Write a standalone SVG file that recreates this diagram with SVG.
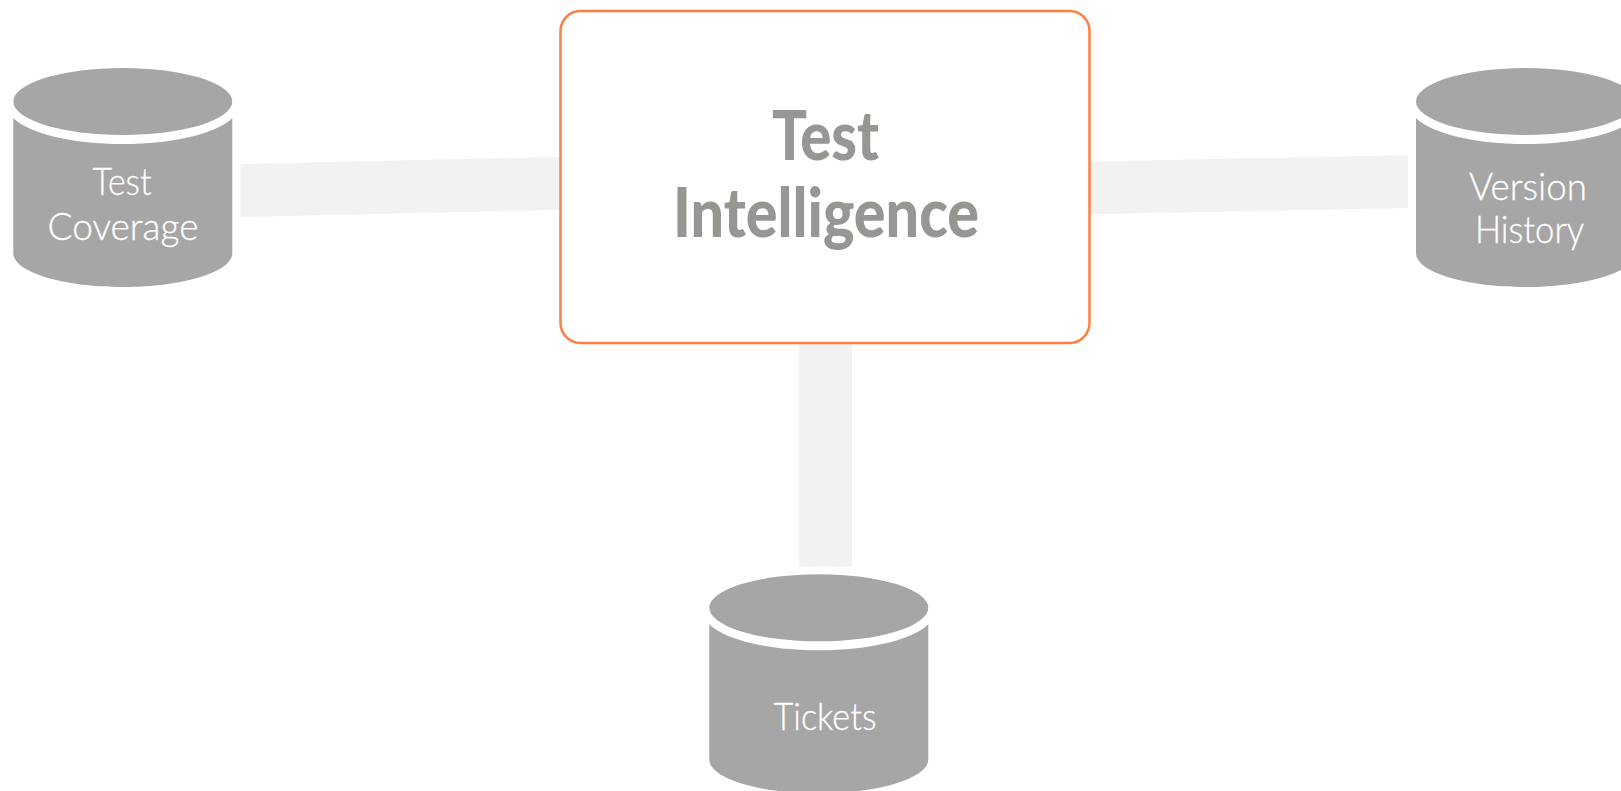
<svg xmlns="http://www.w3.org/2000/svg" width="1621" height="791" viewBox="0 0 1621 791">
<style>
.cyl{fill:#a6a6a6}
.conn{fill:#f2f2f2}
.lbl{font-family:"Lato","Liberation Sans",sans-serif;font-weight:300;font-size:38px;fill:#fff;stroke:#fff;stroke-width:.3px}
.title{font-family:"Lato","Liberation Sans",sans-serif;font-weight:900;font-size:68px;fill:#969692}
</style>
<defs>
<g id="cyl">
<ellipse class="cyl" cx="109.5" cy="33.5" rx="109.5" ry="33.5"/>
<path class="cyl" d="M0 50C16 66 60 76 109.5 76C159 76 203 66 219 50V185C219 204 170 219 109.5 219C49 219 0 204 0 185Z"/>
</g>
</defs>
<rect width="1621" height="791" fill="#fff"/>
<g id="connectors">
<polygon class="conn" points="240.5,164 559,157 559,210 240.5,217"/>
<polygon class="conn" points="1052,162.500 1408,155 1408,208 1052,215"/>
<path class="conn" d="M799 343H852V567Q825 565.500 799 567Z"/>
</g>
<g id="node-test-coverage">
<use href="#cyl" x="13.300" y="68"/>
<text class="lbl" x="92.500" y="195" textLength="59" lengthAdjust="spacingAndGlyphs">Test</text>
<text class="lbl" x="47.500" y="240" textLength="151" lengthAdjust="spacingAndGlyphs">Coverage</text>
</g>
<g id="node-test-intelligence">
<rect x="560.500" y="11" width="529" height="332" rx="20" fill="#fff" stroke="#ff7f3f" stroke-width="2.500"/>
<text class="title" x="772" y="160" textLength="107" lengthAdjust="spacingAndGlyphs">Test</text>
<text class="title" x="673" y="236.500" textLength="306" lengthAdjust="spacingAndGlyphs">Intelligence</text>
</g>
<g id="node-version-history">
<use href="#cyl" x="1416" y="68"/>
<text class="lbl" x="1469" y="200" textLength="118" lengthAdjust="spacingAndGlyphs">Version</text>
<text class="lbl" x="1475" y="243" textLength="109" lengthAdjust="spacingAndGlyphs">History</text>
</g>
<g id="node-tickets">
<use href="#cyl" x="709.300" y="574.300"/>
<text class="lbl" x="773.500" y="730" textLength="103" lengthAdjust="spacingAndGlyphs">Tickets</text>
</g>
</svg>
